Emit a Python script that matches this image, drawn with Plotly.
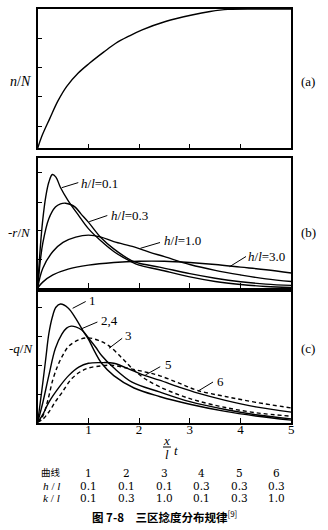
import plotly.graph_objects as go

W, H = 328, 530

# ---------------- data ----------------
# panel (a): n/N
t_a = [0, 0.08, 0.24, 0.4, 0.57, 0.8, 1.02, 1.3, 1.54, 1.8, 2.06, 2.52, 3.04, 3.4, 3.75, 4.3, 5.0]
f_a = [0, 0.085, 0.215, 0.34, 0.443, 0.54, 0.61, 0.69, 0.754, 0.805, 0.85, 0.91, 0.957, 0.982, 0.997, 1.0, 1.0]

# panel (b): -r/N for h/l = 0.1, 0.3, 1.0, 3.0
t_b01 = [0, 0.05, 0.1, 0.16, 0.22, 0.29, 0.36, 0.45, 0.6, 0.8, 1.0, 1.25, 1.5, 1.85, 2.0, 2.4, 3.0, 3.5, 4.0, 4.5, 5.0]
f_b01 = [0, 0.3, 0.52, 0.70, 0.81, 0.87, 0.85, 0.77, 0.67, 0.56, 0.455, 0.36, 0.28, 0.2, 0.175, 0.14, 0.085, 0.05, 0.027, 0.012, 0.005]
t_b03 = [0, 0.05, 0.1, 0.22, 0.35, 0.45, 0.55, 0.65, 0.74, 0.85, 1.0, 1.25, 1.5, 1.85, 2.0, 2.4, 3.0, 3.5, 4.0, 4.5, 5.0]
f_b03 = [0, 0.2, 0.34, 0.53, 0.62, 0.645, 0.65, 0.64, 0.62, 0.57, 0.505, 0.385, 0.30, 0.21, 0.19, 0.16, 0.11, 0.075, 0.048, 0.03, 0.02]
t_b10 = [0, 0.1, 0.3, 0.5, 0.75, 1.0, 1.25, 1.5, 1.9, 2.2, 2.5, 3.0, 3.5, 4.0, 4.5, 5.0]
f_b10 = [0, 0.15, 0.28, 0.35, 0.39, 0.405, 0.39, 0.355, 0.315, 0.275, 0.24, 0.18, 0.135, 0.1, 0.07, 0.05]
t_b30 = [0, 0.1, 0.3, 0.6, 1.0, 1.5, 2.0, 2.5, 3.0, 3.5, 4.0, 4.5, 5.0]
f_b30 = [0, 0.045, 0.10, 0.145, 0.175, 0.195, 0.205, 0.205, 0.195, 0.18, 0.16, 0.14, 0.115]
b_labels = ["0.1", "0.3", "1.0", "3.0"]

# panel (c): -q/N for curves 1..6
t_c1 = [0, 0.05, 0.1, 0.16, 0.22, 0.29, 0.36, 0.45, 0.6, 0.75, 0.9, 1.0, 1.13, 1.26, 1.5, 1.9, 2.4, 3.0, 3.7, 4.3, 5.0]
f_c1 = [0, 0.15, 0.3, 0.49, 0.68, 0.81, 0.885, 0.91, 0.88, 0.8, 0.7, 0.64, 0.54, 0.455, 0.36, 0.265, 0.2, 0.14, 0.085, 0.05, 0.018]
t_c24 = [0, 0.1, 0.22, 0.35, 0.48, 0.57, 0.66, 0.75, 0.87, 1.06, 1.16, 1.26, 1.5, 1.86, 2.4, 3.0, 3.7, 4.3, 5.0]
f_c24 = [0, 0.15, 0.36, 0.57, 0.68, 0.725, 0.74, 0.735, 0.71, 0.62, 0.57, 0.515, 0.42, 0.31, 0.235, 0.16, 0.1, 0.06, 0.028]
t_c3 = [0, 0.09, 0.2, 0.3, 0.4, 0.5, 0.61, 0.81, 1.0, 1.2, 1.4, 1.65, 1.85, 2.1, 2.4, 2.8, 3.16, 3.7, 4.3, 5.0]
f_c3 = [0, 0.04, 0.17, 0.33, 0.44, 0.52, 0.585, 0.635, 0.65, 0.63, 0.59, 0.5, 0.42, 0.34, 0.275, 0.21, 0.165, 0.115, 0.075, 0.048]
t_c5 = [0, 0.1, 0.22, 0.42, 0.61, 0.81, 1.0, 1.25, 1.5, 1.86, 2.12, 2.4, 2.8, 3.16, 3.7, 4.3, 5.0]
f_c5 = [0, 0.06, 0.155, 0.27, 0.36, 0.425, 0.455, 0.46, 0.455, 0.40, 0.36, 0.325, 0.27, 0.225, 0.17, 0.12, 0.08]
t_c6 = [0, 0.1, 0.22, 0.35, 0.48, 0.68, 0.94, 1.25, 1.45, 1.73, 2.1, 2.4, 2.8, 3.16, 3.7, 4.3, 5.0]
f_c6 = [0, 0.025, 0.08, 0.16, 0.23, 0.34, 0.41, 0.435, 0.44, 0.42, 0.39, 0.36, 0.30, 0.245, 0.2, 0.155, 0.112]
c_labels = ["1", "2,4", "3", "5", "6"]

# axis ticks
x_ticks = [1, 2, 3, 4, 5]
y_ticks_a = [0.16, 0.37, 0.58, 0.79]
y_ticks_bc = [0.215, 0.437, 0.657, 0.887]

# table under the chart
curve_ids = ["1", "2", "3", "4", "5", "6"]
h_over_l = ["0.1", "0.1", "0.1", "0.3", "0.3", "0.3"]
k_over_l = ["0.1", "0.3", "1.0", "0.1", "0.3", "1.0"]

# ---------------- helpers ----------------
def PX(x):
    return x / W

def PY(y):
    return 1 - y / H

SERIF = "Liberation Serif"
TABLE = "DejaVu Serif"
CJK = "Noto Sans CJK SC"
BLACK = "black"

fig = go.Figure()

def add_curve(t, f, xa, ya, dash="solid"):
    fig.add_trace(go.Scatter(
        x=t, y=f, xaxis=xa, yaxis=ya, mode="lines",
        line=dict(color=BLACK, width=1.4, shape="spline", smoothing=1.0, dash=dash),
        showlegend=False, hoverinfo="skip"))

add_curve(t_a, f_a, "x", "y")
for t, f in [(t_b01, f_b01), (t_b03, f_b03), (t_b10, f_b10), (t_b30, f_b30)]:
    add_curve(t, f, "x2", "y2")
add_curve(t_c1, f_c1, "x3", "y3")
add_curve(t_c24, f_c24, "x3", "y3")
add_curve(t_c3, f_c3, "x3", "y3", dash="4px,3px")
add_curve(t_c5, f_c5, "x3", "y3")
add_curve(t_c6, f_c6, "x3", "y3", dash="4px,3px")
# empty trace so the tick-label axis (x4) is drawn
fig.add_trace(go.Scatter(x=[], y=[], xaxis="x4", yaxis="y3", mode="lines",
                         showlegend=False, hoverinfo="skip"))

x_dom = [PX(38), PX(294)]
dom_a = [PY(148.3), PY(9)]
dom_b = [PY(288), PY(157.5)]
dom_c = [PY(422.5), PY(292.3)]

def xax(anchor):
    return dict(domain=x_dom, range=[0, 5], anchor=anchor,
                showline=True, mirror=True, linecolor=BLACK, linewidth=1.5,
                ticks="inside", ticklen=5, tickwidth=1, tickcolor=BLACK,
                tickvals=x_ticks, showticklabels=False, showgrid=False, zeroline=False)

# tick-label carrier axis for the bottom panel
xaxis4 = dict(domain=x_dom, range=[0, 5], anchor="free", overlaying="x3",
              position=PY(419.5), side="bottom", showline=False, ticks="",
              tickvals=x_ticks, ticktext=[str(v) for v in x_ticks],
              showticklabels=True, showgrid=False, zeroline=False,
              tickfont=dict(family=SERIF, size=13, color=BLACK))

def yax(anchor, dom, ticks):
    return dict(domain=dom, range=[0, 1], anchor=anchor,
                showline=True, mirror=True, linecolor=BLACK, linewidth=1.5,
                ticks="inside", ticklen=5, tickwidth=1, tickcolor=BLACK,
                tickvals=ticks, showticklabels=False, showgrid=False, zeroline=False)

ann = []
shapes = []

def text(x, y, s, size=13, xanchor="center", family=SERIF):
    ann.append(dict(x=PX(x), y=PY(y), xref="paper", yref="paper", text=s,
                    showarrow=False, xanchor=xanchor, yanchor="middle",
                    font=dict(family=family, size=size, color=BLACK)))

def seg(x0, y0, x1, y1, w=1.0):
    shapes.append(dict(type="line", xref="paper", yref="paper",
                       x0=PX(x0), y0=PY(y0), x1=PX(x1), y1=PY(y1),
                       line=dict(color=BLACK, width=w)))

# axis labels and panel tags
text(21, 82, "<i>n</i>/<i>N</i>", 14)
text(20, 232, "-<i>r</i>/<i>N</i>", 13)
text(21, 348, "-<i>q</i>/<i>N</i>", 13)
text(311, 82, "(a)", 13)
text(311, 232, "(b)", 13)
text(311, 348, "(c)", 13)

# panel (b) labels with pointer lines
b_text_pos = [(80, 183.3), (110, 215.7), (163, 240.7), (248, 256.7)]
b_ptr = [((62.3, 187.7), (79, 182.6)), ((90, 221.7), (108.3, 215.5)),
         ((141.7, 248.3), (161.5, 242.5)), ((231.7, 266.7), (248.3, 256.5))]
for lab, (x, y), (p0, p1) in zip(b_labels, b_text_pos, b_ptr):
    text(x, y, "<i>h</i>/<i>l</i>=" + lab, 13, xanchor="left")
    seg(p0[0], p0[1], p1[0], p1[1])

# panel (c) labels with pointer lines
c_text_pos = [(88, 300), (99.5, 320.7), (124, 335), (164, 364.3), (216.5, 381.7)]
c_ptr = [((73.3, 308.3), (86.5, 301.5)), ((81.7, 329), (98.3, 322)),
         ((110, 348.3), (123.3, 338.3)), ((146.7, 375), (161.7, 366.7)),
         ((200, 391), (215, 382))]
for lab, (x, y), (p0, p1) in zip(c_labels, c_text_pos, c_ptr):
    text(x, y, lab, 13, xanchor="left")
    seg(p0[0], p0[1], p1[0], p1[1])

# x-axis title:  x / l  t
text(168.5, 440.5, "<i>x</i>", 13)
seg(164.5, 447, 172.5, 447, 1)
text(168.5, 454.5, "<i>l</i>", 13)
text(177.5, 450, "<i>t</i>", 13)

# table
col_x = [89.3, 127.7, 165.7, 203.3, 241.7, 279.3]
row_y = [473.0, 485.5, 498.0]
text(51.5, row_y[0] - 1, "曲线", 9.5, family=CJK)
text(51.5, row_y[1], "<i>h</i> / <i>l</i>", 11.2)
text(51.5, row_y[2], "<i>k</i> / <i>l</i>", 11.2)
for cx, a, b, c in zip(col_x, curve_ids, h_over_l, k_over_l):
    text(cx, row_y[0], a, 10.5, family=TABLE)
    text(cx, row_y[1], b, 10.5, family=TABLE)
    text(cx, row_y[2], c, 10.5, family=TABLE)

# caption
text(166, 516, "<b>图 7-8　三区捻度分布规律</b><sup>[9]</sup>", 11.5, family=CJK)

fig.update_layout(
    width=W, height=H, autosize=False,
    margin=dict(l=0, r=0, t=0, b=0),
    paper_bgcolor="white", plot_bgcolor="white",
    xaxis=xax("y"), xaxis2=xax("y2"), xaxis3=xax("y3"), xaxis4=xaxis4,
    yaxis=yax("x", dom_a, y_ticks_a), yaxis2=yax("x2", dom_b, y_ticks_bc),
    yaxis3=yax("x3", dom_c, y_ticks_bc),
    annotations=ann, shapes=shapes, showlegend=False,
)

fig.write_html("out.html")
